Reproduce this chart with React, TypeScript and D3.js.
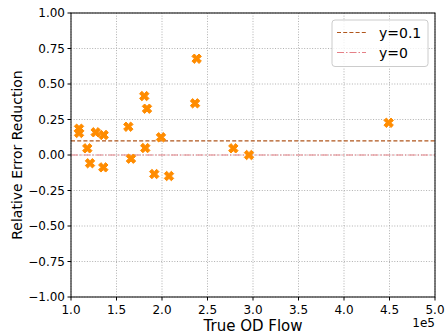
import React from "react";
import * as d3 from "d3";

const flowX: number[] = [1.088, 1.088, 1.271, 1.359, 1.179, 1.209, 1.355, 1.63, 1.805, 1.835, 1.659, 1.816, 1.989, 1.915, 2.077, 2.363, 2.381, 2.784, 2.956, 4.491];
const reductionY: number[] = [0.185, 0.155, 0.16, 0.141, 0.047, -0.058, -0.087, 0.199, 0.415, 0.326, -0.026, 0.049, 0.125, -0.134, -0.148, 0.364, 0.678, 0.047, 0.0, 0.227];
const xTicks: number[] = [1.0, 1.5, 2.0, 2.5, 3.0, 3.5, 4.0, 4.5, 5.0];
const yTicks: number[] = [-1, -0.75, -0.5, -0.25, 0, 0.25, 0.5, 0.75, 1];
const refLines = [
  { label: "y=0.1", value: 0.1, color: "#b0561c", dash: "4,2.2", opacity: 1 },
  { label: "y=0", value: 0, color: "#e06a72", dash: "7,2,1.5,2", opacity: 0.85 },
];

const W = 446, H = 335;
const L = 71, R = 435, T = 13, B = 297;
const FONT = "'DejaVu Sans', sans-serif";

function xMarker(s: number): string {
  const pts: [number, number][] = [[-1, -3], [-1, -1], [-3, -1], [-3, 1], [-1, 1], [-1, 3], [1, 3], [1, 1], [3, 1], [3, -1], [1, -1], [1, -3]];
  const c = Math.SQRT1_2;
  const rot = pts.map(([x, y]) => {
    const px = (x / 6) * s, py = (y / 6) * s;
    return [px * c - py * c, px * c + py * c];
  });
  return "M" + rot.map((p) => p[0].toFixed(2) + "," + p[1].toFixed(2)).join("L") + "Z";
}

export default function App() {
  const x = d3.scaleLinear().domain([1, 5]).range([L, R]);
  const y = d3.scaleLinear().domain([-1, 1]).range([B, T]);
  const fx = d3.format(".1f");
  const fy = d3.format(".2f");
  const marker = xMarker(10);
  return (
    <svg width={W} height={H} style={{ position: "absolute", left: 0, top: 0, background: "#fff" }} fontFamily={FONT}>
      <rect x={0} y={0} width={W} height={H} fill="#fff" />
      {xTicks.map((t) => (
        <line key={"gx" + t} x1={x(t)} x2={x(t)} y1={T} y2={B} stroke="#b0b0b0" strokeWidth={1} strokeDasharray="1,1.65" />
      ))}
      {yTicks.map((t) => (
        <line key={"gy" + t} x1={L} x2={R} y1={y(t)} y2={y(t)} stroke="#b0b0b0" strokeWidth={1} strokeDasharray="1,1.65" />
      ))}
      {refLines.map((r) => (
        <line key={r.label} x1={L} x2={R} y1={y(r.value)} y2={y(r.value)} stroke={r.color} strokeOpacity={r.opacity} strokeWidth={1.2} strokeDasharray={r.dash} />
      ))}
      {flowX.map((v, i) => (
        <path key={i} d={marker} transform={`translate(${x(v)},${y(reductionY[i])})`} fill="#ff8c00" stroke="#ff8c00" strokeWidth={1} />
      ))}
      <rect x={L} y={T} width={R - L} height={B - T} fill="none" stroke="#000" strokeWidth={1} />
      {xTicks.map((t) => (
        <g key={"tx" + t}>
          <line x1={x(t)} x2={x(t)} y1={B} y2={B + 3.5} stroke="#000" />
          <text x={x(t)} y={B + 16.5} fontSize={12} textAnchor="middle" fill="#000">{fx(t)}</text>
        </g>
      ))}
      {yTicks.map((t) => (
        <g key={"ty" + t}>
          <line x1={L - 3.5} x2={L} y1={y(t)} y2={y(t)} stroke="#000" />
          <text x={L - 6} y={y(t) + 4.3} fontSize={12} textAnchor="end" fill="#000">{fy(t)}</text>
        </g>
      ))}
      <text x={R} y={327} fontSize={12} textAnchor="end" fill="#000">1e5</text>
      <text x={(L + R) / 2} y={331} fontSize={15} textAnchor="middle" fill="#000">True OD Flow</text>
      <text transform={`translate(22,${(T + B) / 2}) rotate(-90)`} fontSize={14} textAnchor="middle" fill="#000">Relative Error Reduction</text>
      <g>
        <rect x={332} y={20} width={96} height={46.5} rx={3} fill="#fff" fillOpacity={0.8} stroke="#cccccc" strokeWidth={1} />
        {refLines.map((r, i) => (
          <g key={"lg" + r.label}>
            <line x1={337} x2={366} y1={32.5 + i * 20} y2={32.5 + i * 20} stroke={r.color} strokeOpacity={r.opacity} strokeWidth={1.2} strokeDasharray={r.dash} />
            <text x={379} y={37.5 + i * 20} fontSize={14} fill="#000">{r.label}</text>
          </g>
        ))}
      </g>
    </svg>
  );
}
